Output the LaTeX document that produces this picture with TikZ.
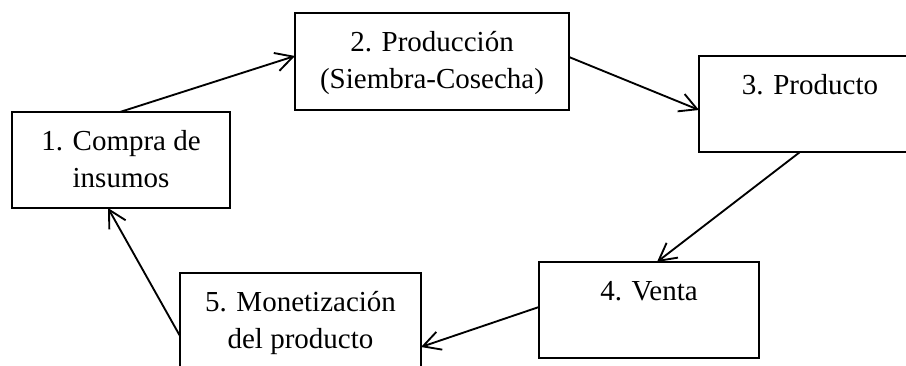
\documentclass[tikz,border=0pt]{standalone}
\usepackage{fontspec}
\setmainfont{Liberation Serif}
\usetikzlibrary{calc,arrows.meta}
\begin{document}
\begin{tikzpicture}[x=0.75pt,y=-0.75pt,
  box/.style={draw=black, line width=1.6pt, rectangle, inner sep=0pt, outer sep=0pt, fill=none},
  lbl/.style={anchor=base, inner sep=0pt, font=\fontsize{21.75pt}{26pt}\selectfont},
  conn/.style={draw=black, line width=1.4pt, -{Straight Barb[length=13pt, width=14pt, line width=1.4pt]}}]
\useasboundingbox (0,0) rectangle (906,366);
\clip (0,0) rectangle (906,366);
\fill[white] (0,0) rectangle (906,366);
% boxes
\node[box, minimum width=163.5pt, minimum height=72pt] (b1) at (121,160) {};
\node[box, minimum width=205.5pt, minimum height=72.75pt] (b2) at (432,61.5) {};
\node[box, minimum width=166.5pt, minimum height=72pt] (b3) at (810,104) {};
\node[box, minimum width=165pt, minimum height=72pt] (b4) at (649,310) {};
\node[box, minimum width=180.75pt, minimum height=72pt] (b5) at (300.5,321) {};
% texts
\node[lbl] (t1a) at (121,151) {1. Compra de};
\node[lbl] (t1b) at (121,188) {insumos};
\node[lbl] (t2a) at (432,52) {2. Producción};
\node[lbl] (t2b) at (432,89) {(Siembra-Cosecha)};
\node[lbl] (t3a) at (810,95) {3. Producto};
\node[lbl] (t4a) at (649,301) {4. Venta};
\node[lbl] (t5a) at (300.5,312) {5. Monetización};
\node[lbl] (t5b) at (300.5,349) {del producto};
% connectors
\draw[conn] ($(b1.north)+(-1,0)$) -- ($(b2.west)+(0,-5.5)$);
\draw[conn] ($(b2.east)+(0,-4.5)$) -- ($(b3.west)+(0,6)$);
\draw[conn] ($(b3.south)+(-10,0)$) -- ($(b4.north)+(8,0)$);
\draw[conn] ($(b4.west)+(0,-3)$) -- ($(b5.east)+(0,26)$);
\draw[conn] ($(b5.west)+(0,15)$) -- ($(b1.south)+(-13,0)$);
\end{tikzpicture}
\end{document}
